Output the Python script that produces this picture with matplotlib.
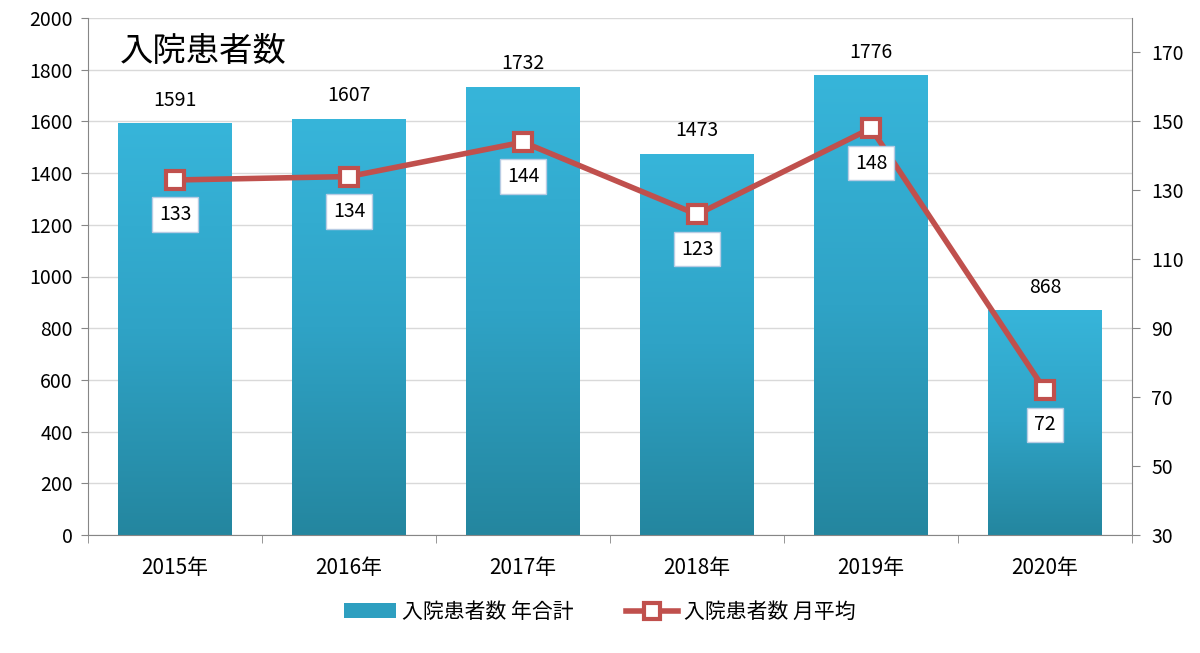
import numpy as np
import matplotlib.pyplot as plt
from matplotlib.colors import LinearSegmentedColormap
from matplotlib.patches import Patch
from matplotlib.lines import Line2D

plt.rcParams['font.family'] = ['Noto Sans CJK JP', 'DejaVu Sans']

# データ
years = ['2015年', '2016年', '2017年', '2018年', '2019年', '2020年']
totals = [1591, 1607, 1732, 1473, 1776, 868]
monthly = [133, 134, 144, 123, 148, 72]

bar_label = '入院患者数 年合計'
line_label = '入院患者数 月平均'
title = '入院患者数'

bar_top = '#37b5da'
bar_bottom = '#24869f'
line_color = '#c0504d'
axis_color = '#868686'

fig = plt.figure(figsize=(12, 6.53), dpi=100)
ax = fig.add_axes([88 / 1200, 1 - 535 / 653, 1044 / 1200, 517 / 653])
ax2 = ax.twinx()

x = np.arange(len(years))
w = 0.655
cmap = LinearSegmentedColormap.from_list('bar', [bar_bottom, '#2fa3c6', bar_top])
grad = np.linspace(0, 1, 256).reshape(-1, 1)

bars = ax.bar(x, totals, width=w, color='none', zorder=2)
for b in bars:
    ax.imshow(grad, extent=[b.get_x(), b.get_x() + w, 0, b.get_height()],
              origin='lower', aspect='auto', cmap=cmap, zorder=2)
for xi, v in zip(x, totals):
    ax.annotate(str(v), (xi, v), xytext=(0, 17), textcoords='offset points',
                ha='center', va='center', fontsize=14)

ax.set_xlim(-0.5, len(years) - 0.5)
ax.set_ylim(0, 2000)
ax.set_yticks(range(0, 2001, 200))
ax.yaxis.grid(True, color='#d9d9d9', linewidth=1)
ax.set_axisbelow(True)
ax.set_xticks(x)
ax.set_xticklabels(years, fontsize=15)
ax.set_xticks(np.arange(-0.5, len(years)), minor=True)
ax.tick_params(axis='x', which='major', length=0, pad=16)
ax.tick_params(axis='x', which='minor', length=6, color=axis_color, direction='out')
ax.tick_params(axis='y', labelsize=14, length=5, color=axis_color, pad=6)

for s in ['top', 'right']:
    ax.spines[s].set_visible(False)
for s in ['left', 'bottom']:
    ax.spines[s].set_color(axis_color)

ax2.plot(x, monthly, color=line_color, linewidth=4, marker='s', markersize=13,
         markerfacecolor='white', markeredgecolor=line_color, markeredgewidth=3,
         zorder=5, label=line_label)
ax2.set_ylim(30, 180)
ax2.set_yticks(range(30, 171, 20))
ax2.tick_params(axis='y', labelsize=14, length=6, color=axis_color, pad=8)
for s in ['top', 'left', 'bottom']:
    ax2.spines[s].set_visible(False)
ax2.spines['right'].set_color(axis_color)
for xi, v in zip(x, monthly):
    ax2.annotate(str(v), (xi, v), xytext=(0, -25), textcoords='offset points',
                 ha='center', va='center', fontsize=14, zorder=6,
                 bbox=dict(boxstyle='square,pad=0.35', fc='white', ec='#b8cce4', lw=1))

ax.text(0.03, 0.935, title, transform=ax.transAxes, fontsize=24, ha='left', va='center')

# 凡例
handles = [Patch(facecolor='#2e9fc0', label=bar_label),
           Line2D([], [], color=line_color, linewidth=4, marker='s', markersize=11,
                  markerfacecolor='white', markeredgecolor=line_color,
                  markeredgewidth=3, label=line_label)]
fig.legend(handles=handles, loc='center', bbox_to_anchor=(0.5, 1 - 612 / 653),
           ncol=2, frameon=False, fontsize=15, handlelength=2.5, columnspacing=2.5,
           handletextpad=0.3)

fig.savefig('out.png', dpi=100)
